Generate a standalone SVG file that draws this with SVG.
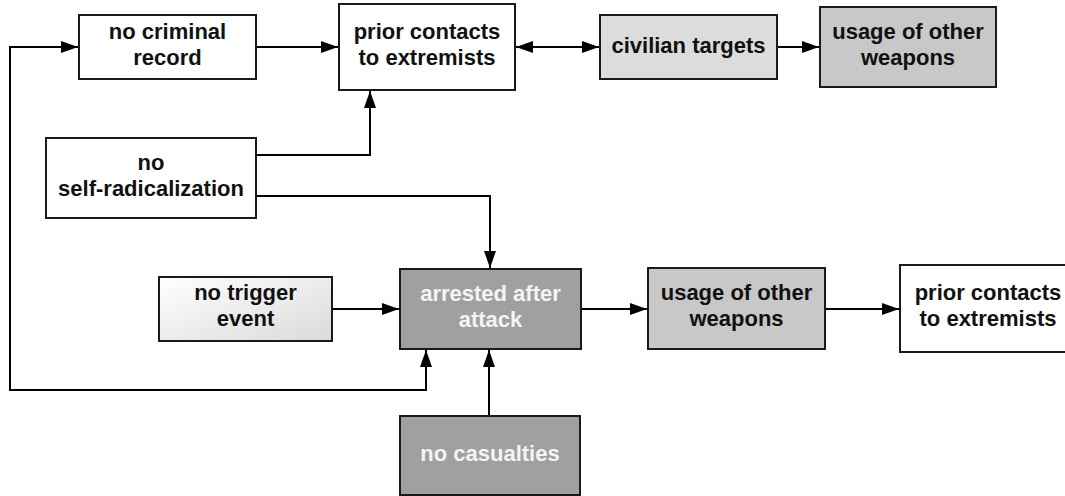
<svg xmlns="http://www.w3.org/2000/svg" width="1065" height="496" viewBox="0 0 1065 496">
<style>
.box{stroke:#1a1a1a;stroke-width:2}
.w{fill:#ffffff}
.l1{fill:#dcdcdc}
.l2{fill:#c8c8c8}
.d{fill:#a0a0a0}
text{font-family:"Liberation Sans",Arial,sans-serif;font-weight:bold;font-size:22px;text-anchor:middle;fill:#111}
text.inv{fill:#f4f4f4}
.c{fill:none;stroke:#000;stroke-width:2}
</style>
<defs>
<marker id="ah" markerUnits="userSpaceOnUse" markerWidth="18" markerHeight="12" refX="17" refY="6" orient="auto-start-reverse">
<path d="M0,0 L17,6 L0,12 z" fill="#000"/>
</marker>
<linearGradient id="g" x1="0" y1="0" x2="1" y2="1">
<stop offset="0" stop-color="#ffffff"/>
<stop offset="1" stop-color="#dadada"/>
</linearGradient>
</defs>
<g id="connectors">
<path class="c" d="M426,350 L426,390 L10,390 L10,47 L78,47" marker-start="url(#ah)" marker-end="url(#ah)"/>
<path class="c" d="M256,47 L338,47" marker-end="url(#ah)"/>
<path class="c" d="M516,47 L599,47" marker-start="url(#ah)" marker-end="url(#ah)"/>
<path class="c" d="M777,47 L819,47" marker-end="url(#ah)"/>
<path class="c" d="M256,155 L370,155 L370,91" marker-end="url(#ah)"/>
<path class="c" d="M256,196 L490,196 L490,268" marker-end="url(#ah)"/>
<path class="c" d="M332,309 L399,309" marker-end="url(#ah)"/>
<path class="c" d="M489,416 L489,350" marker-end="url(#ah)"/>
<path class="c" d="M581,309 L647,309" marker-end="url(#ah)"/>
<path class="c" d="M825,309 L899,309" marker-end="url(#ah)"/>
</g>
<g id="no-criminal-record">
<rect class="box w" x="79" y="15" width="177" height="64"/>
<text x="167.5" y="39">no criminal</text>
<text x="167.5" y="65">record</text>
</g>
<g id="prior-contacts-top">
<rect class="box w" x="339" y="4" width="176" height="86"/>
<text x="427" y="39">prior contacts</text>
<text x="427" y="65">to extremists</text>
</g>
<g id="civilian-targets">
<rect class="box l1" x="600" y="15" width="177" height="64"/>
<text x="688.5" y="52.5">civilian targets</text>
</g>
<g id="usage-top">
<rect class="box l2" x="820" y="7" width="176" height="80"/>
<text x="908" y="39">usage of other</text>
<text x="908" y="65">weapons</text>
</g>
<g id="no-self-radicalization">
<rect class="box w" x="46" y="138" width="210" height="80"/>
<text x="151" y="170">no</text>
<text x="151" y="196">self-radicalization</text>
</g>
<g id="no-trigger-event">
<rect class="box" fill="url(#g)" x="159" y="277" width="173" height="64"/>
<text x="245.5" y="300">no trigger</text>
<text x="245.5" y="326">event</text>
</g>
<g id="arrested-after-attack">
<rect class="box d" x="400" y="269" width="181" height="80"/>
<text class="inv" x="490.5" y="300.5">arrested after</text>
<text class="inv" x="490.5" y="327">attack</text>
</g>
<g id="usage-mid">
<rect class="box l2" x="648" y="268" width="177" height="81"/>
<text x="736.5" y="300">usage of other</text>
<text x="736.5" y="326">weapons</text>
</g>
<g id="prior-contacts-right">
<rect class="box w" x="900" y="265" width="176" height="87"/>
<text x="988" y="300">prior contacts</text>
<text x="988" y="326">to extremists</text>
</g>
<g id="no-casualties">
<rect class="box d" x="400" y="416" width="180" height="79"/>
<text class="inv" x="490" y="461">no casualties</text>
</g>
</svg>
